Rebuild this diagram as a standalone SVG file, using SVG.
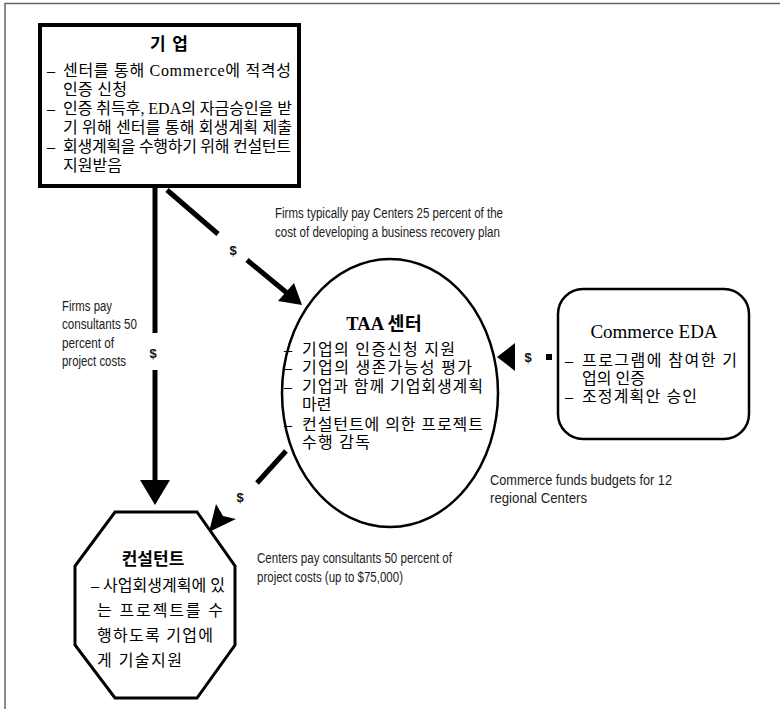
<svg xmlns="http://www.w3.org/2000/svg" width="780" height="709" viewBox="0 0 780 709">
<style>
.kr{font-family:"Liberation Serif","Noto Sans CJK KR",serif;font-size:16px;fill:#000}
.tt{font-family:"Liberation Serif","Noto Sans CJK KR",serif;font-weight:bold;fill:#000;text-anchor:middle}
.en{font-family:"Liberation Sans",Arial,sans-serif;font-size:14px;fill:#222}
.dl{font-family:"Liberation Sans",Arial,sans-serif;font-size:13px;font-weight:bold;fill:#111;text-anchor:middle}
.ln{stroke:#000;fill:none}
.ah{fill:#000;stroke:none}
</style>
<rect width="780" height="709" fill="#fff"/>
<path d="M5 709 V3.5 H780" fill="none" stroke="#666" stroke-width="1.5"/>

<g id="connectors">
  <!-- firm -> consultant -->
  <line class="ln" x1="155" y1="188" x2="155" y2="333" stroke-width="5"/>
  <line class="ln" x1="155" y1="370" x2="155" y2="482" stroke-width="5"/>
  <polygon class="ah" points="140,480 170,480 155,505"/>
  <text class="dl" x="153" y="358">$</text>
  <!-- firm -> TAA -->
  <line class="ln" x1="167" y1="190" x2="218" y2="234" stroke-width="5"/>
  <line class="ln" x1="247" y1="260" x2="287" y2="293" stroke-width="5"/>
  <polygon class="ah" points="278,301 294,283 302,305"/>
  <text class="dl" x="233" y="255">$</text>
  <!-- EDA -> TAA -->
  <polygon class="ah" points="515,343 515,371 497,357"/>
  <rect class="ah" x="546" y="354" width="6" height="6"/>
  <text class="dl" x="528" y="362">$</text>
  <!-- TAA -> consultant -->
  <line class="ln" x1="286" y1="451" x2="257" y2="483" stroke-width="5"/>
  <polygon class="ah" points="209,532 216,504 223,516 236,519"/>
  <text class="dl" x="240" y="502">$</text>
</g>

<g id="firm">
  <rect x="40" y="25" width="259" height="161" fill="#fff" stroke="#000" stroke-width="4"/>
  <text class="tt" x="169" y="50" font-size="17" textLength="38">기 업</text>
  <text class="kr" x="47" y="76">–</text>
  <text class="kr" x="63" y="76" textLength="228">센터를 통해 Commerce에 적격성</text>
  <text class="kr" x="63" y="95" textLength="64">인증 신청</text>
  <text class="kr" x="47" y="114">–</text>
  <text class="kr" x="63" y="114" textLength="229">인증 취득후, EDA의 자금승인을 받</text>
  <text class="kr" x="63" y="133" textLength="229">기 위해 센터를 통해 회생계획 제출</text>
  <text class="kr" x="47" y="152">–</text>
  <text class="kr" x="63" y="152" textLength="228">회생계획을 수행하기 위해 컨설턴트</text>
  <text class="kr" x="63" y="171">지원받음</text>
</g>

<g id="taa">
  <ellipse cx="390" cy="393" rx="108" ry="134" fill="#fff" stroke="#000" stroke-width="2.5"/>
  <text class="tt" x="384" y="330" font-size="18.5">TAA 센터</text>
  <text class="kr" x="284" y="355">–</text>
  <text class="kr" x="302" y="355" textLength="153">기업의 인증신청 지원</text>
  <text class="kr" x="284" y="373">–</text>
  <text class="kr" x="302" y="373" textLength="170">기업의 생존가능성 평가</text>
  <text class="kr" x="284" y="392">–</text>
  <text class="kr" x="302" y="392" textLength="181">기업과 함께 기업회생계획</text>
  <text class="kr" x="302" y="410">마련</text>
  <text class="kr" x="284" y="430">–</text>
  <text class="kr" x="302" y="430" textLength="181">컨설턴트에 의한 프로젝트</text>
  <text class="kr" x="302" y="448" textLength="68">수행 감독</text>
</g>

<g id="eda">
  <rect x="558" y="289" width="191" height="150" rx="25" fill="#fff" stroke="#000" stroke-width="2.5"/>
  <text class="tt" x="654" y="338" font-size="19" style="font-weight:normal">Commerce EDA</text>
  <text class="kr" x="565" y="366">–</text>
  <text class="kr" x="582" y="366" textLength="155">프로그램에 참여한 기</text>
  <text class="kr" x="582" y="384">업의 인증</text>
  <text class="kr" x="565" y="402">–</text>
  <text class="kr" x="582" y="402" textLength="115">조정계획안 승인</text>
</g>

<g id="consultant">
  <polygon points="115,512 197,512 235,566 235,645 197,698 115,698 75,645 75,566" fill="#fff" stroke="#000" stroke-width="3"/>
  <text class="tt" x="153" y="565" font-size="17">컨설턴트</text>
  <text class="kr" x="91" y="591">–</text>
  <text class="kr" x="103" y="591" textLength="122">사업회생계획에 있</text>
  <text class="kr" x="97" y="616" textLength="126">는 프로젝트를 수</text>
  <text class="kr" x="97" y="641" textLength="116">행하도록 기업에</text>
  <text class="kr" x="97" y="666" textLength="85">게 기술지원</text>
</g>

<g id="labels">
  <text class="en" x="275" y="218" textLength="228" lengthAdjust="spacingAndGlyphs">Firms typically pay Centers 25 percent of the</text>
  <text class="en" x="275" y="237" textLength="225" lengthAdjust="spacingAndGlyphs">cost of developing a business recovery plan</text>
  <text class="en" x="62" y="311" textLength="50" lengthAdjust="spacingAndGlyphs">Firms pay</text>
  <text class="en" x="62" y="329" textLength="75" lengthAdjust="spacingAndGlyphs">consultants 50</text>
  <text class="en" x="62" y="348" textLength="52" lengthAdjust="spacingAndGlyphs">percent of</text>
  <text class="en" x="62" y="366" textLength="64" lengthAdjust="spacingAndGlyphs">project costs</text>
  <text class="en" x="490" y="485" textLength="182" lengthAdjust="spacingAndGlyphs">Commerce funds budgets for 12</text>
  <text class="en" x="490" y="503" textLength="97" lengthAdjust="spacingAndGlyphs">regional Centers</text>
  <text class="en" x="257" y="563" textLength="195" lengthAdjust="spacingAndGlyphs">Centers pay consultants 50 percent of</text>
  <text class="en" x="257" y="582" textLength="146" lengthAdjust="spacingAndGlyphs">project costs (up to $75,000)</text>
</g>
</svg>
